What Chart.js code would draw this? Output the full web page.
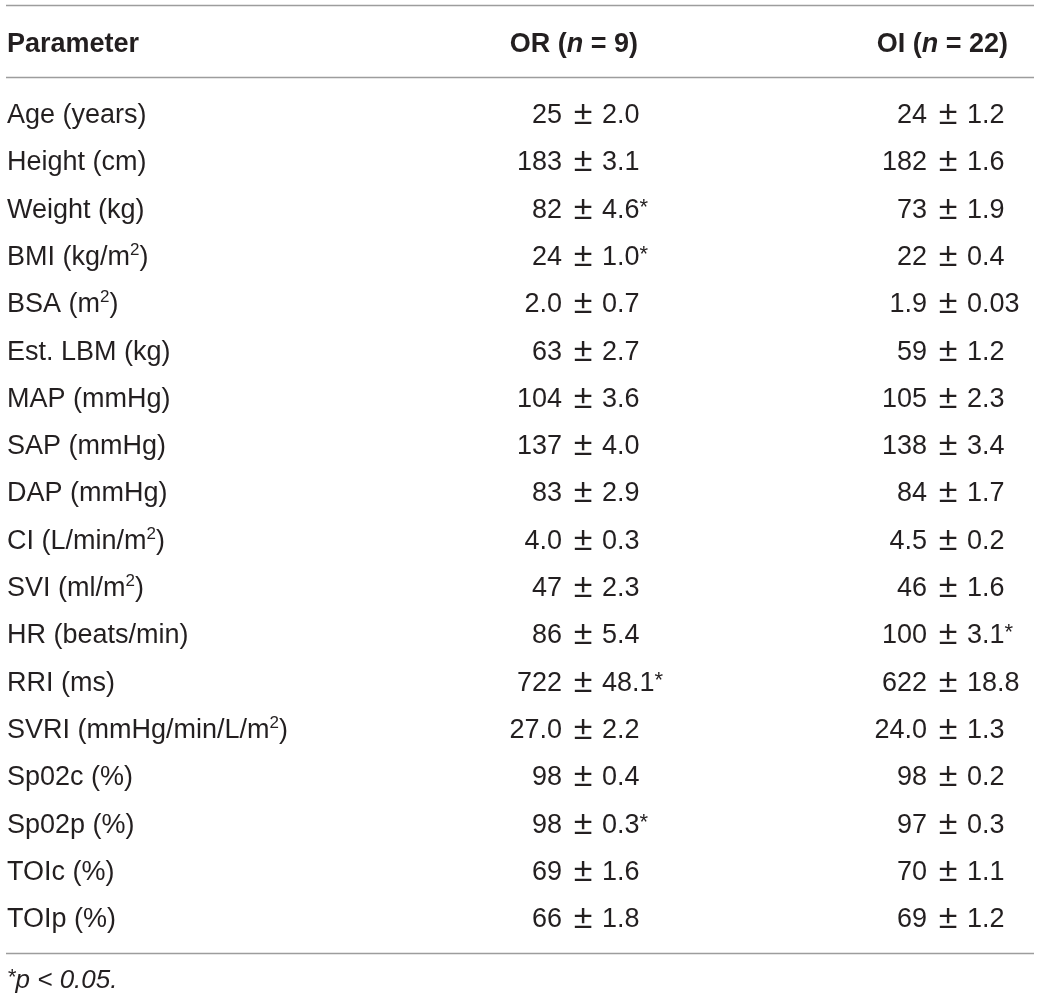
<!DOCTYPE html>
<html>
<head>
<meta charset="utf-8">
<script src="https://cdn.jsdelivr.net/npm/chart.js@4"></script>
<style>
  html, body { margin: 0; padding: 0; background: #fff; }
  .wrap { width: 1040px; height: 1001px; position: relative; }
</style>
</head>
<body>
<div class="wrap"><canvas id="table"></canvas></div>
<script>
// table data
const parameters = ['Age (years)', 'Height (cm)', 'Weight (kg)', 'BMI (kg/m^2)', 'BSA (m^2)', 'Est. LBM (kg)',
  'MAP (mmHg)', 'SAP (mmHg)', 'DAP (mmHg)', 'CI (L/min/m^2)', 'SVI (ml/m^2)', 'HR (beats/min)', 'RRI (ms)',
  'SVRI (mmHg/min/L/m^2)', 'Sp02c (%)', 'Sp02p (%)', 'TOIc (%)', 'TOIp (%)'];
const groups = ['OR', 'OI'];
const groupN = [9, 22];

const orMean = [25, 183, 82, 24, 2.0, 63, 104, 137, 83, 4.0, 47, 86, 722, 27.0, 98, 98, 69, 66];
const orSem  = [2.0, 3.1, 4.6, 1.0, 0.7, 2.7, 3.6, 4.0, 2.9, 0.3, 2.3, 5.4, 48.1, 2.2, 0.4, 0.3, 1.6, 1.8];
const orSig  = [0, 0, 1, 1, 0, 0, 0, 0, 0, 0, 0, 0, 1, 0, 0, 1, 0, 0];

const oiMean = [24, 182, 73, 22, 1.9, 59, 105, 138, 84, 4.5, 46, 100, 622, 24.0, 98, 97, 70, 69];
const oiSem  = [1.2, 1.6, 1.9, 0.4, 0.03, 1.2, 2.3, 3.4, 1.7, 0.2, 1.6, 3.1, 18.8, 1.3, 0.2, 0.3, 1.1, 1.2];
const oiSig  = [0, 0, 0, 0, 0, 0, 0, 0, 0, 0, 0, 1, 0, 0, 0, 0, 0, 0];

const meanDecimals = [0, 0, 0, 0, 1, 0, 0, 0, 0, 1, 0, 0, 0, 1, 0, 0, 0, 0];
const oiSemDecimals = [1, 1, 1, 1, 2, 1, 1, 1, 1, 1, 1, 1, 1, 1, 1, 1, 1, 1];
const footnote = '*p < 0.05.';

// layout
const rowTop = 113, rowPitch = 47.3;
const colX = { param: 7, or: 583, oi: 948 };   // OR / OI anchored on the ± sign
const headerRight = { or: 638, oi: 1008 };
const FAM = '"Liberation Sans", Arial, Helvetica, sans-serif';
const INK = '#231f20';
const RULE = '#9d9d9d';

const fmt = (v, d) => v.toFixed(d);
const orCells = orMean.map((m, i) => [fmt(m, meanDecimals[i]), fmt(orSem[i], 1), orSig[i]]);
const oiCells = oiMean.map((m, i) => [fmt(m, meanDecimals[i]), fmt(oiSem[i], oiSemDecimals[i]), oiSig[i]]);

function font(size, weight, style) {
  return (style || '') + ' ' + (weight || 'normal') + ' ' + size + 'px ' + FAM;
}

// segments: {text, size, weight, style, rise}
function drawRich(ctx, segs, x, y, align) {
  let total = 0;
  segs.forEach(s => { ctx.font = font(s.size, s.weight, s.style); s.w = ctx.measureText(s.text).width; total += s.w; });
  let cx = align === 'right' ? x - total : x;
  ctx.textAlign = 'left';
  segs.forEach(s => {
    ctx.font = font(s.size, s.weight, s.style);
    ctx.fillText(s.text, cx, y - (s.rise || 0));
    cx += s.w;
  });
}

function labelSegs(label) {
  const segs = [];
  label.split(/\^(\d)/).forEach((part, k) => {
    if (!part) return;
    if (k % 2) segs.push({ text: part, size: 17, rise: 10 });
    else segs.push({ text: part, size: 27 });
  });
  return segs;
}

const tablePlugin = {
  id: 'tablePlugin',
  afterDatasetsDraw(chart) {
    const ctx = chart.ctx;
    const y = chart.scales.y;
    const area = chart.chartArea;
    ctx.save();
    ctx.fillStyle = INK;
    ctx.textBaseline = 'alphabetic';

    // rules
    ctx.strokeStyle = RULE;
    ctx.lineWidth = 1.6;
    [-2.283, -0.761, 17.76].forEach(v => {
      const py = Math.round(y.getPixelForValue(v)) + 0.5;
      ctx.beginPath();
      ctx.moveTo(area.left + 6, py);
      ctx.lineTo(area.right - 6, py);
      ctx.stroke();
    });

    // header
    const hy = y.getPixelForValue(-1.5) + 10;
    drawRich(ctx, [{ text: 'Parameter', size: 27, weight: 'bold' }], chart.scales.x.getPixelForValue(colX.param), hy, 'left');
    groups.forEach((g, gi) => {
      const key = g.toLowerCase();
      drawRich(ctx, [
        { text: g + ' (', size: 27, weight: 'bold' },
        { text: 'n', size: 27, weight: 'bold', style: 'italic' },
        { text: ' = ' + groupN[gi] + ')', size: 27, weight: 'bold' }
      ], chart.scales.x.getPixelForValue(headerRight[key]), hy, 'right');
    });

    // body cells from dataset elements
    chart.data.datasets.forEach((ds, di) => {
      const meta = chart.getDatasetMeta(di);
      meta.data.forEach((pt, i) => {
        const base = pt.y + 10;
        if (ds.kind === 'label') {
          drawRich(ctx, labelSegs(ds.cells[i]), pt.x, base, 'left');
        } else {
          const [m, s, sig] = ds.cells[i];
          ctx.font = font(27);
          ctx.textAlign = 'right';
          ctx.fillText(m, pt.x - 21, base);
          ctx.textAlign = 'center';
          ctx.font = font(34);
          ctx.fillText('\u00b1', pt.x, base + 1);
          ctx.textAlign = 'left';
          ctx.font = font(27);
          ctx.fillText(s, pt.x + 19, base);
          if (sig) {
            const w = ctx.measureText(s).width;
            ctx.font = font(22);
            ctx.fillText('*', pt.x + 19 + w, base - 4);
          }
        }
      });
    });

    // footnote
    const fy = y.getPixelForValue(18.3) + 9;
    drawRich(ctx, [
      { text: '*', size: 22, style: 'italic', rise: 4 },
      { text: footnote.slice(1), size: 26, style: 'italic' }
    ], chart.scales.x.getPixelForValue(colX.param), fy, 'left');
    ctx.restore();
  }
};

const rowsAt = x => parameters.map((_, i) => ({ x: x, y: i }));

new Chart(document.getElementById('table'), {
  type: 'scatter',
  data: {
    datasets: [
      { label: 'Parameter', kind: 'label', cells: parameters, data: rowsAt(colX.param), pointRadius: 0 },
      { label: 'OR', kind: 'value', cells: orCells, data: rowsAt(colX.or), pointRadius: 0 },
      { label: 'OI', kind: 'value', cells: oiCells, data: rowsAt(colX.oi), pointRadius: 0 }
    ]
  },
  options: {
    responsive: true,
    maintainAspectRatio: false,
    animation: false,
    events: [],
    layout: { padding: 0 },
    plugins: { legend: { display: false }, tooltip: { enabled: false } },
    scales: {
      x: { type: 'linear', min: 0, max: 1040, display: false },
      y: { type: 'linear', reverse: true, min: -rowTop / rowPitch, max: (1001 - rowTop) / rowPitch, display: false }
    }
  },
  plugins: [tablePlugin]
});
</script>
</body>
</html>
